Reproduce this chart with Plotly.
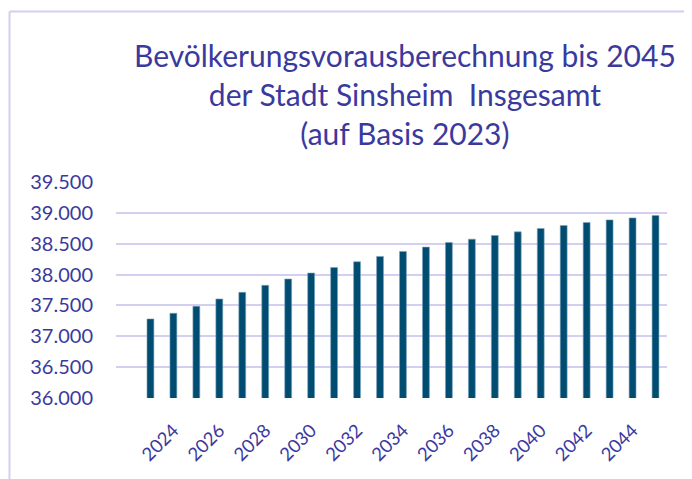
import plotly.graph_objects as go

years = list(range(2023, 2046))
population = [37281, 37373, 37486, 37605, 37712, 37825, 37928, 38025, 38116,
              38208, 38294, 38375, 38445, 38520, 38574, 38633, 38692, 38746,
              38795, 38843, 38886, 38918, 38956]
x_tick_vals = [2024, 2026, 2028, 2030, 2032, 2034, 2036, 2038, 2040, 2042, 2044]
x_tick_text = [str(v) for v in x_tick_vals]
y_tick_vals = [36000, 36500, 37000, 37500, 38000, 38500, 39000, 39500]
y_tick_text = ["36.000", "36.500", "37.000", "37.500", "38.000", "38.500", "39.000", "39.500"]
title_text = "Bevölkerungsvorausberechnung bis 2045<br>der Stadt Sinsheim  Insgesamt<br>(auf Basis 2023)"

TXT = "#3a3a9e"
GRID = "#d3cff0"
BAR = "#004d71"

OFF = 8  # page body margin
W, H = 692 - OFF, 479 - OFF
L, T = 116 - OFF, 182 - OFF
R = W - (667 - OFF)
B = H - (398 - OFF)
pw, ph = W - L - R, H - T - B

def px(xpage):
    return (xpage - OFF - L) / pw

def py(ypage):
    return (H - B - (ypage - OFF)) / ph

fig = go.Figure()
fig.add_trace(go.Bar(
    x=years, y=population, width=0.3,
    marker=dict(color=BAR, line=dict(color="#7aa3bd", width=0.6)),
))

fig.add_annotation(
    text=title_text, xref="paper", yref="paper",
    x=px(405), y=py(35), xanchor="center", yanchor="top",
    showarrow=False, align="center",
    font=dict(family="Lato", size=30, color=TXT),
)

fig.update_layout(
    width=W, height=H,
    margin=dict(l=L, r=R, t=T, b=B),
    paper_bgcolor="white", plot_bgcolor="white",
    showlegend=False,
    font=dict(family="Lato", color=TXT),
    xaxis=dict(range=[2021.5, 2045.5], tickvals=x_tick_vals, ticktext=x_tick_text,
               tickangle=-45, showgrid=False, zeroline=False, showline=False,
               tickfont=dict(size=18.5, color=TXT), ticks="", ticklabelstandoff=17),
    yaxis=dict(range=[36000, 39500], tickvals=y_tick_vals, ticktext=y_tick_text,
               showgrid=True, gridcolor=GRID, gridwidth=2, zeroline=False,
               showline=False, ticks="", tickfont=dict(size=20, color=TXT),
               ticklabelstandoff=22),
    shapes=[
        dict(type="line", xref="paper", yref="paper", x0=px(9.5), x1=px(9.5),
             y0=py(11.5), y1=py(479), line=dict(color=GRID, width=2)),
        dict(type="line", xref="paper", yref="paper", x0=px(9.5), x1=px(692),
             y0=py(11.5), y1=py(11.5), line=dict(color=GRID, width=2)),
    ],
)

fig.write_html("out.html")
